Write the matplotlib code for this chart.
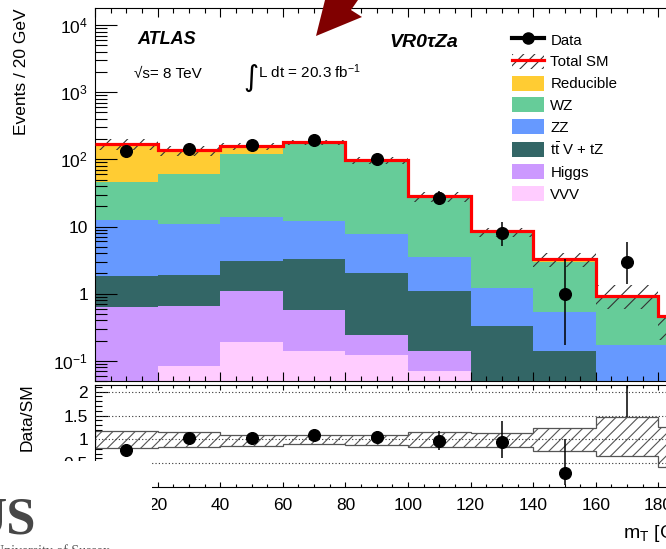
#!/usr/bin/env python3
"""
m_T distribution in the VR0tauZa validation region: stacked SM backgrounds,
data points and a Data/SM ratio panel.
"""

import numpy as np
import matplotlib
matplotlib.use('Agg')
import matplotlib.pyplot as plt
from matplotlib.patches import Patch, Rectangle, Polygon
from matplotlib.lines import Line2D
from matplotlib.ticker import FixedLocator, MultipleLocator, LogLocator, NullFormatter

plt.rcParams['font.family'] = ['Liberation Sans', 'DejaVu Sans']
plt.rcParams['mathtext.fontset'] = 'custom'
plt.rcParams['mathtext.rm'] = 'Liberation Sans'
plt.rcParams['mathtext.it'] = 'Liberation Sans:italic'
plt.rcParams['hatch.linewidth'] = 0.8

# --- binning (GeV) ---
edges = np.arange(0, 201, 20)
centres = 0.5 * (edges[:-1] + edges[1:])

# --- background expectations per bin, bottom of the stack first ---
vvv = [0.03, 0.084, 0.19, 0.14, 0.12, 0.069, 0.0, 0.0, 0.0, 0.0]
higgs = [0.61, 0.58, 0.89, 0.43, 0.12, 0.072, 0.01, 0.0, 0.0, 0.0]
ttv = [1.22, 1.20, 2.02, 2.68, 1.80, 0.97, 0.32, 0.14, 0.02, 0.01]
zz = [10.7, 9.1, 10.7, 8.7, 5.8, 2.37, 0.89, 0.39, 0.15, 0.16]
wz = [33.2, 48.7, 105.0, 164.0, 88.0, 24.5, 7.3, 2.4, 0.76, 0.30]
reducible = [125.0, 77.0, 39.0, 5.0, 1.5, 0.3, 0.0, 0.37, 0.0, 0.0]

# relative systematic uncertainty on the total SM (up / down)
unc_up = [0.17, 0.15, 0.10, 0.085, 0.10, 0.155, 0.13, 0.23, 0.47, 0.25]
unc_dn = [0.19, 0.17, 0.13, 0.10, 0.12, 0.17, 0.17, 0.25, 0.36, 0.57]

# --- observed data with Poisson (Garwood) intervals ---
data = [133, 141, 162, 197, 103, 27, 8, 1, 3, 0]
data_lo = [11.5, 11.9, 12.7, 14.0, 10.1, 5.2, 2.8, 0.83, 1.63, 0.0]
data_hi = [12.6, 12.9, 13.8, 15.0, 11.2, 6.3, 3.8, 2.3, 2.92, 1.84]

stack = [
    (vvv, '#FFCCFF', 'VVV'),
    (higgs, '#CC99FF', 'Higgs'),
    (ttv, '#336666', r't$\bar{\rm t}$ V + tZ'),
    (zz, '#6699FF', 'ZZ'),
    (wz, '#66CC99', 'WZ'),
    (reducible, '#FFCC33', 'Reducible'),
]

W, H = 666, 549


def px_box(x0, y0, x1, y1):
    """Pixel box (top-left origin) -> figure fraction rect."""
    return [x0 / W, 1 - y1 / H, (x1 - x0) / W, (y1 - y0) / H]


fig = plt.figure(figsize=(W / 100, H / 100), dpi=100)
ax = fig.add_axes(px_box(95, 8, 721, 381))
rax = fig.add_axes(px_box(95, 385, 721, 487))

# ---------------- main panel ----------------
base = np.full(len(edges) - 1, 1e-3)
for vals, col, lab in stack:
    top = base + np.asarray(vals)
    ax.stairs(top, edges, baseline=base, fill=True, color=col, lw=0)
    base = top

total = np.sum([np.asarray(s[0]) for s in stack], axis=0)
up = np.asarray(unc_up)
dn = np.asarray(unc_dn)

ax.stairs(total * (1 + up), edges, baseline=total * (1 - dn), fill=True,
          facecolor='none', edgecolor='#333333', hatch='//', lw=0, zorder=3)
ax.stairs(total, edges, baseline=None, color='red', lw=2.3, zorder=4)

d = np.asarray(data, dtype=float)
lo = np.asarray(data_lo)
hi = np.asarray(data_hi)
shown = d > 0
ax.errorbar(centres[shown], d[shown], yerr=[lo[shown], hi[shown]], fmt='o',
            color='black', ms=8.4, elinewidth=1.1, capsize=0, zorder=5)

ax.set_yscale('log')
ax.set_xlim(0, 200)
ax.set_ylim(0.05, 1.8e4)
ax.yaxis.set_major_locator(FixedLocator([0.1, 1, 10, 100, 1000, 10000]))
ax.set_yticklabels(['$10^{-1}$', '1', '10', '$10^{2}$', '$10^{3}$', '$10^{4}$'])
ax.yaxis.set_minor_locator(LogLocator(base=10, subs=np.arange(2, 10)))
ax.yaxis.set_minor_formatter(NullFormatter())
ax.xaxis.set_major_locator(MultipleLocator(20))
ax.xaxis.set_minor_locator(MultipleLocator(5))
ax.tick_params(axis='x', which='both', direction='in', top=True, bottom=True,
               labelbottom=False)
ax.tick_params(axis='x', which='major', length=6.2, width=0.8)
ax.tick_params(axis='x', which='minor', length=3.3, width=0.8)
ax.tick_params(axis='y', which='both', direction='in', left=True, right=True,
               labelsize=12.5, pad=5)
ax.tick_params(axis='y', which='major', length=15.5, width=0.8)
ax.tick_params(axis='y', which='minor', length=8.5, width=0.8)
for sp in ax.spines.values():
    sp.set_linewidth(0.8)

ax.set_ylabel('Events / 20 GeV', loc='top', fontsize=12.5)
ax.yaxis.set_label_coords(-0.106, 1.0)

handles = [Line2D([], [], color='black', marker='o', ms=8, lw=3),
           (Patch(facecolor='none', edgecolor='#333333', hatch='///', lw=0),
            Line2D([], [], color='red', lw=2.3))]
labels = ['Data', 'Total SM']
for vals, col, lab in reversed(stack):
    handles.append(Patch(facecolor=col, edgecolor='none'))
    labels.append(lab)
ax.legend(handles, labels, loc='upper left', bbox_to_anchor=(512 / W, 1 - 32 / H),
          bbox_transform=fig.transFigure, frameon=False, fontsize=10.8,
          borderpad=0, borderaxespad=0, handlelength=2.1, handleheight=1.15,
          handletextpad=0.45, labelspacing=0.42)

fig.text(137 / W, 1 - 43.5 / H, 'ATLAS', fontsize=13, weight='bold',
         style='italic', va='baseline')
fig.text(134 / W, 1 - 78 / H, '\u221as= 8 TeV', fontsize=11, va='baseline')
fig.text(243 / W, 1 - 86 / H, '\u222b', fontsize=21, family='DejaVu Sans',
         va='baseline')
fig.text(258 / W, 1 - 78 / H, 'L dt = 20.3 fb$^{-1}$', fontsize=11,
         va='baseline')
fig.text(389 / W, 1 - 46.7 / H, 'VR0\u03c4Za', fontsize=14, weight='bold',
         style='italic', va='baseline')

# ---------------- ratio panel ----------------
rax.stairs(1 + up, edges, baseline=1 - dn, fill=True, facecolor='white',
           edgecolor='#555555', hatch='///', lw=0.9, zorder=2)
for v in [0.5, 1.0, 1.5, 2.0]:
    rax.axhline(v, color='#333333', ls=(0, (1, 2)), lw=0.8, zorder=3)

ratio = np.where(shown, d / total, np.nan)
rax.errorbar(centres[shown], ratio[shown],
             yerr=[lo[shown] / total[shown], hi[shown] / total[shown]],
             fmt='o', color='black', ms=8.4, elinewidth=1.1, capsize=0, zorder=5)

rax.set_xlim(0, 200)
rax.set_ylim(0, 2.14)
rax.yaxis.set_major_locator(FixedLocator([0.5, 1, 1.5, 2]))
rax.set_yticklabels(['0.5', '1', '1.5', '2'])
rax.yaxis.set_minor_locator(MultipleLocator(0.1))
rax.xaxis.set_major_locator(MultipleLocator(20))
rax.xaxis.set_minor_locator(MultipleLocator(5))
rax.tick_params(axis='x', which='both', direction='in', top=True, bottom=True,
                labelsize=12.5, pad=8)
rax.tick_params(axis='x', which='major', length=3.8, width=0.8)
rax.tick_params(axis='x', which='minor', length=2.2, width=0.8)
rax.tick_params(axis='y', which='both', direction='in', left=True, right=True,
                labelsize=12.5, pad=5)
rax.tick_params(axis='y', which='major', length=9.4, width=0.8)
rax.tick_params(axis='y', which='minor', length=5, width=0.8)
for sp in rax.spines.values():
    sp.set_linewidth(0.8)

rax.set_ylabel('Data/SM', loc='top', fontsize=12.5)
rax.yaxis.set_label_coords(-0.096, 1.02)
rax.set_xlabel('m$_{\\rm T}$ [GeV]', loc='right', fontsize=14)
rax.xaxis.label.set_va('baseline')
rax.xaxis.set_label_coords(0.9725, -0.5)

# slide overlays: logo panel and arrow head
fig.patches.append(Rectangle((0, 0), 152 / W, (H - 461) / H,
                             transform=fig.transFigure, facecolor='white',
                             edgecolor='none', zorder=10))
fig.text(36 / W, 1 - 533 / H, 'US', ha='right', va='baseline',
         family='Liberation Serif', fontsize=38, weight='bold',
         color='#474747', zorder=12)
fig.text(-6 / W, 1 - 544 / H, 'University of Sussex', va='top',
         family='Liberation Serif', fontsize=10, color='#555555', zorder=12)
arrow_px = [(325, 0), (316, 36), (362, 17), (351, 10), (358, 0)]
fig.patches.append(Polygon([(x / W, 1 - y / H) for x, y in arrow_px],
                           closed=True, transform=fig.transFigure,
                           facecolor='#800000', edgecolor='none', zorder=11))

fig.savefig('out.png', dpi=100)
